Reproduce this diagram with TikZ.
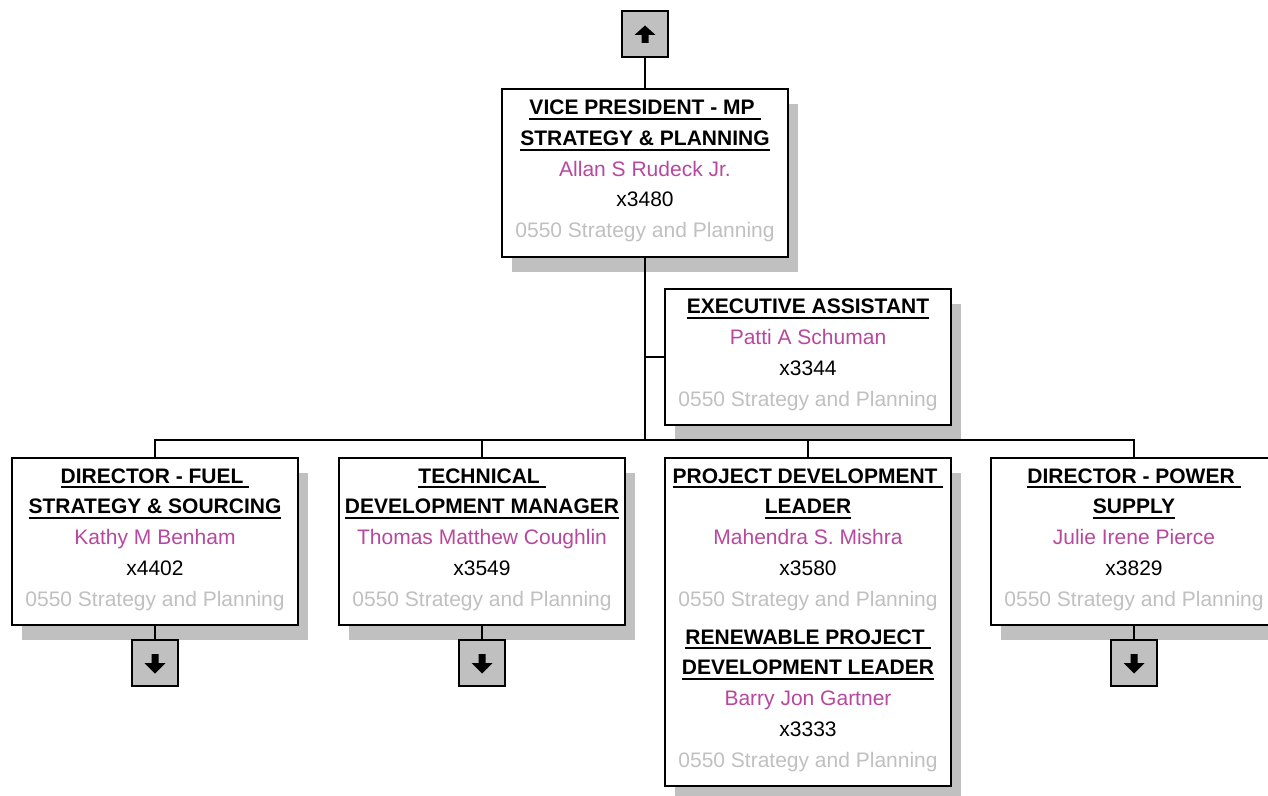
\documentclass[tikz,border=0pt]{standalone}
\usepackage{fontspec}
\setmainfont{Liberation Sans}
\usetikzlibrary{shadows}
\definecolor{namepink}{RGB}{184,72,158}
\definecolor{deptgray}{RGB}{192,192,192}
\definecolor{shadegray}{RGB}{192,192,192}
\newcommand\hdr[1]{\setbox0\hbox{\bfseries #1}\rlap{\rule[-2.6pt]{\wd0}{1pt}}\box0}
\newcommand\who[1]{{\color{namepink}#1}}
\newcommand\dept{{\color{deptgray}0550 Strategy and Planning}\rule[-4.2pt]{0pt}{1pt}}
\begin{document}
\begin{tikzpicture}[x=0.5pt,y=-0.5pt,line width=1pt,
		box/.style={draw,fill=white,anchor=north,minimum width=143pt,inner sep=0pt,align=center,
			font=\fontsize{10.5}{15.4}\selectfont,
			drop shadow={shadow xshift=5pt,shadow yshift=-7.5pt,fill=shadegray,opacity=1}},
		navbox/.style={draw,fill=shadegray,minimum size=23pt,inner sep=0pt}]
	\useasboundingbox (0,0) rectangle (1268,796);
	\clip (0,0) rectangle (1268,796);
	% boxes
	\node[box,minimum height=84pt] (vp) at (645,88) {\hdr{VICE PRESIDENT - MP }\\\hdr{STRATEGY \& PLANNING}\\\who{Allan S Rudeck Jr.}\\x3480\\\dept};
	\node[box,minimum height=68pt] (exec) at (808,288) {\hdr{EXECUTIVE ASSISTANT}\\\who{Patti A Schuman}\\x3344\\\dept};
	\node[box,minimum height=83.5pt] (fuel) at (155,457) {\hdr{DIRECTOR - FUEL }\\\hdr{STRATEGY \& SOURCING}\\\who{Kathy M Benham}\\x4402\\\dept};
	\node[box,minimum height=83.5pt] (tech) at (482,457) {\hdr{TECHNICAL }\\\hdr{DEVELOPMENT MANAGER}\\\who{Thomas Matthew Coughlin}\\x3549\\\dept};
	\node[box,minimum height=164pt] (proj) at (808,457) {\hdr{PROJECT DEVELOPMENT }\\\hdr{LEADER}\\\who{Mahendra S. Mishra}\\x3580\\\dept\\[3.5pt]
		\hdr{RENEWABLE PROJECT }\\\hdr{DEVELOPMENT LEADER}\\\who{Barry Jon Gartner}\\x3333\\\dept};
	\node[box,minimum height=83.5pt] (power) at (1134,457) {\hdr{DIRECTOR - POWER }\\\hdr{SUPPLY}\\\who{Julie Irene Pierce}\\x3829\\\dept};
	% navigation
	\node[navbox] (up) at (645,34) {};
	\node[navbox] (fuel-dn) at (155,663) {};
	\node[navbox] (tech-dn) at (482,663) {};
	\node[navbox] (power-dn) at (1134,663) {};
	\fill[shift={(up.center)}] (0,-8.5)--(10.5,1)--(3.5,1)--(3.5,9)--(-3.5,9)--(-3.5,1)--(-10.5,1)--cycle;
	\foreach \n in {fuel,tech,power}
		\fill[shift={(\n-dn.center)}] (0,10.5)--(10.5,0)--(3.5,0)--(3.5,-9)--(-3.5,-9)--(-3.5,0)--(-10.5,0)--cycle;
	% connectors
	\coordinate (bus) at (645,440);
	\draw (up.south) -- (vp.north);
	\draw (vp.south) -- (bus);
	\draw (exec.west) -- (exec.west -| bus);
	\foreach \n in {fuel,tech,proj,power}
		\draw (\n.north) |- (bus);
	\foreach \n in {fuel,tech,power}
		\draw (\n.south) -- (\n-dn.north);
\end{tikzpicture}
\end{document}
